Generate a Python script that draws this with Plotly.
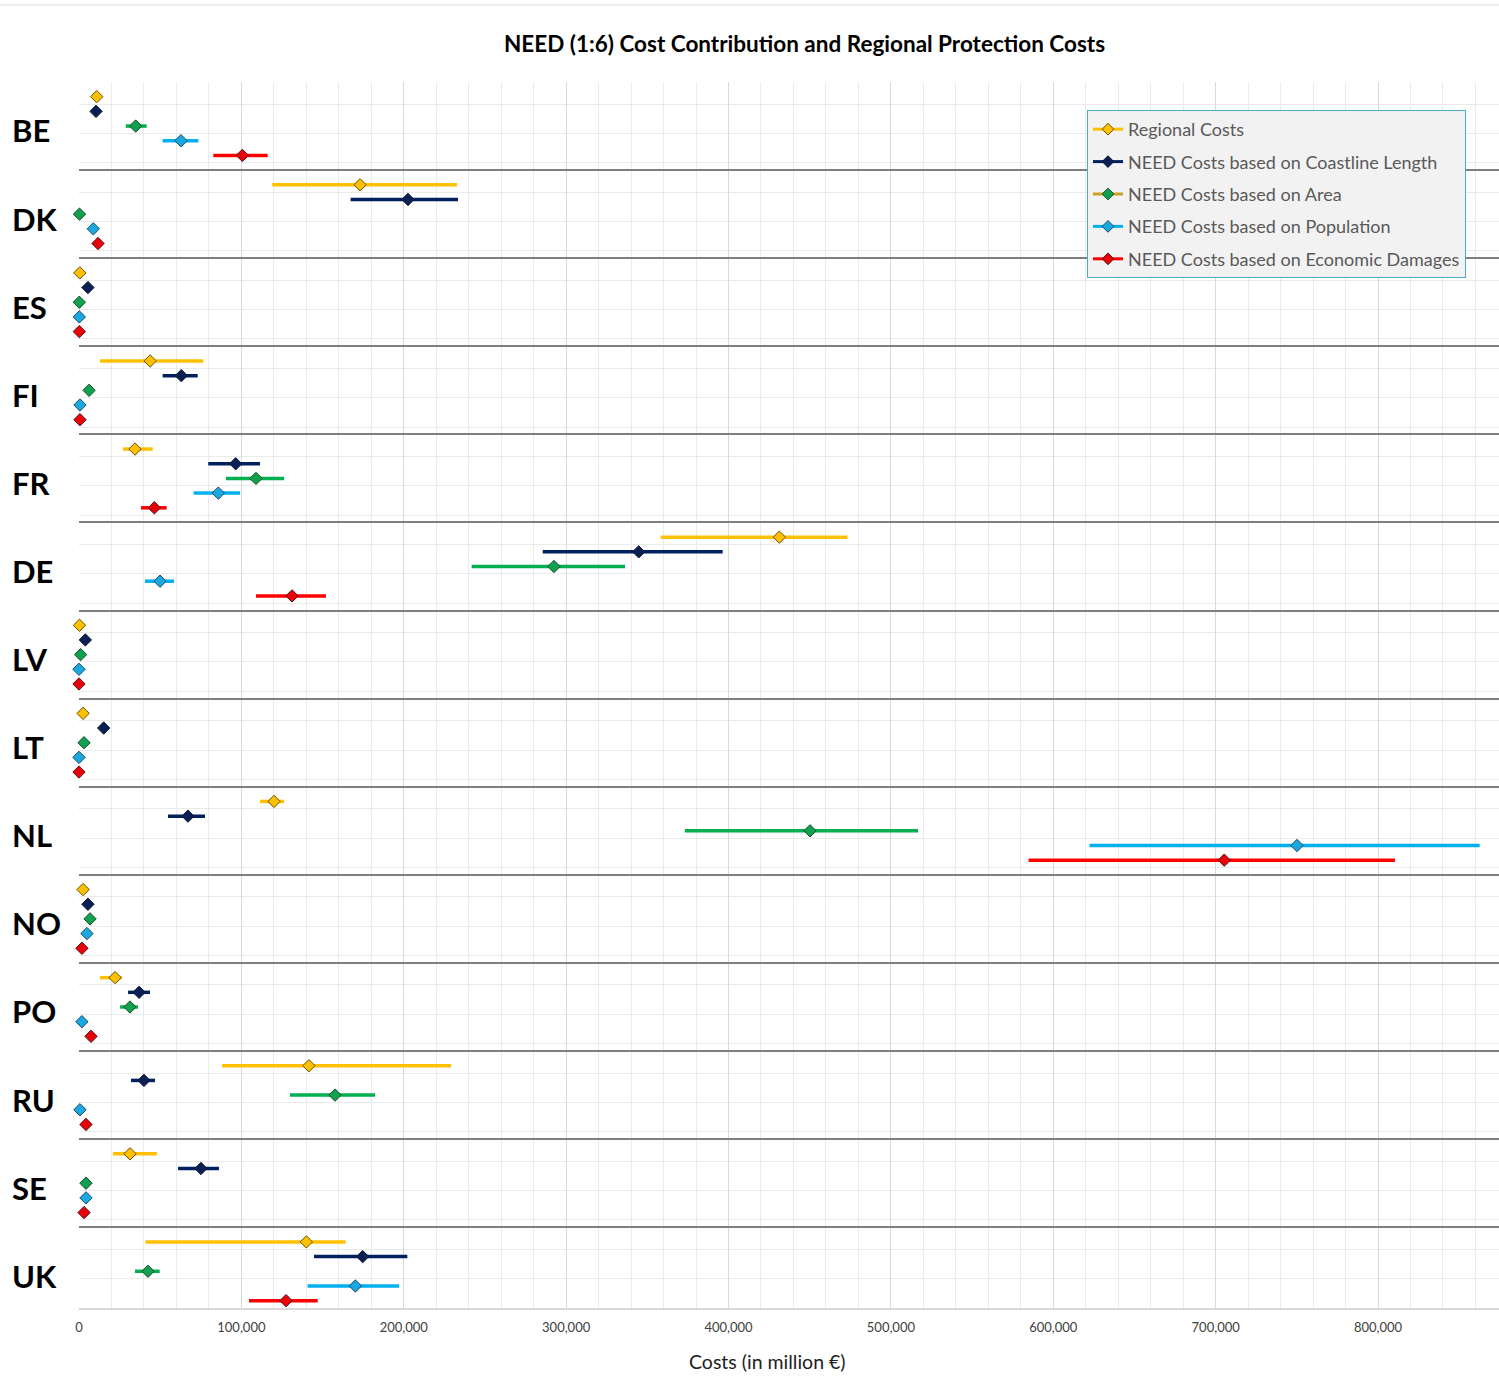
import plotly.graph_objects as go

countries = ["BE", "DK", "ES", "FI", "FR", "DE", "LV", "LT", "NL", "NO", "PO", "RU", "SE", "UK"]

series_names = [
    "Regional Costs",
    "NEED Costs based on Coastline Length",
    "NEED Costs based on Area",
    "NEED Costs based on Population",
    "NEED Costs based on Economic Damages",
]

# central values (million EUR)
regional_mid = [10900, 173100, 500, 43800, 34500, 431300, 300, 2500, 120100, 2500, 22200, 141600, 31400, 140000]
regional_lo = [10900, 119000, 500, 12900, 27100, 358200, 300, 2500, 111500, 2500, 12900, 88100, 20900, 41000]
regional_hi = [10900, 232800, 500, 76600, 45400, 473200, 300, 2500, 126300, 2500, 26500, 229100, 48000, 164200]

coast_mid = [10500, 202600, 5500, 63000, 96500, 344700, 3900, 15200, 67100, 5500, 37000, 40000, 75100, 174700]
coast_lo = [10500, 167300, 5500, 51500, 79600, 285600, 3900, 15200, 54800, 5500, 30200, 32000, 61000, 144700]
coast_hi = [10500, 233400, 5500, 73100, 111500, 396400, 3900, 15200, 77600, 5500, 43700, 46800, 86200, 202200]

area_mid = [34900, 300, 200, 6200, 109000, 292500, 1000, 3100, 450200, 6800, 31400, 157700, 4300, 42500]
area_lo = [28800, 300, 200, 6200, 90500, 241800, 1000, 3100, 373100, 6800, 25300, 129900, 4300, 34500]
area_hi = [41700, 300, 200, 6200, 126300, 336300, 1000, 3100, 516700, 6800, 36300, 182300, 4300, 49700]

pop_mid = [62800, 8800, 200, 600, 85800, 49900, 0, 0, 750100, 4900, 1800, 600, 4300, 170200]
pop_lo = [51500, 8800, 200, 600, 70600, 40600, 0, 0, 622300, 4900, 1800, 600, 4300, 140800]
pop_hi = [73500, 8800, 200, 600, 99200, 58500, 0, 0, 862600, 4900, 1800, 600, 4300, 197100]

dam_mid = [100600, 11700, 200, 600, 46400, 131200, 0, 0, 705300, 1800, 7400, 4300, 3100, 127500]
dam_lo = [82700, 11700, 200, 600, 38200, 109000, 0, 0, 584800, 1800, 7400, 4300, 3100, 104700]
dam_hi = [116200, 11700, 200, 600, 54000, 152100, 0, 0, 810400, 1800, 7400, 4300, 3100, 147000]

x_tick_vals = [0, 100000, 200000, 300000, 400000, 500000, 600000, 700000, 800000]
x_tick_text = ["0", "100,000", "200,000", "300,000", "400,000", "500,000", "600,000", "700,000", "800,000"]

data = [
    (regional_mid, regional_lo, regional_hi),
    (coast_mid, coast_lo, coast_hi),
    (area_mid, area_lo, area_hi),
    (pop_mid, pop_lo, pop_hi),
    (dam_mid, dam_lo, dam_hi),
]

bar_colors = ["#FFC000", "#002060", "#00B050", "#00B0F0", "#FF0000"]
marker_colors = ["#FFC000", "#0A1F55", "#0FA050", "#1AA8E0", "#E8000B"]
marker_lines = ["#6B5000", "#101830", "#1E4A2A", "#1E4A6A", "#5A1010"]
legend_line_colors = ["#FFC000", "#002060", "#C9A227", "#00B0F0", "#FF0000"]

FONT = "Lato, 'Open Sans', sans-serif"
W, H = 1499, 1399
ML, MR, MT, MB = 79, 0, 82, 91
PW = W - ML - MR
PH = H - MT - MB

fig = go.Figure()

n_series = len(series_names)
band = n_series + 1

for j, (mid, lo, hi) in enumerate(data):
    ys = [band * i + j for i in range(len(countries))]
    plus = [h - m for m, h in zip(mid, hi)]
    minus = [m - l for m, l in zip(mid, lo)]
    fig.add_trace(go.Scatter(
        x=mid, y=ys, mode="markers",
        marker=dict(size=8, opacity=0, color=bar_colors[j]),
        error_x=dict(type="data", symmetric=False, array=plus, arrayminus=minus,
                     color=bar_colors[j], thickness=3.5, width=0),
        showlegend=False, hoverinfo="skip",
    ))

for j, (mid, lo, hi) in enumerate(data):
    ys = [band * i + j for i in range(len(countries))]
    fig.add_trace(go.Scatter(
        x=mid, y=ys, mode="markers", name=series_names[j],
        marker=dict(symbol="diamond", size=9.5, color=marker_colors[j],
                    line=dict(color=marker_lines[j], width=1)),
        showlegend=False, cliponaxis=False, legendgroup=series_names[j],
    ))
    fig.add_trace(go.Scatter(
        x=[None], y=[None], mode="lines+markers", name=series_names[j],
        line=dict(color=legend_line_colors[j], width=3),
        marker=dict(symbol="diamond", size=9, color=marker_colors[j],
                    line=dict(color=marker_lines[j], width=1)),
        legendgroup=series_names[j], showlegend=True,
    ))

y_top = -1
y_bottom = band * len(countries) - 1.5

for i, c in enumerate(countries):
    fig.add_annotation(
        x=(10 - ML) / PW, xref="paper", xanchor="left",
        y=band * i + 2.3, yref="y", yanchor="middle",
        text="<b>%s</b>" % c, showarrow=False,
        font=dict(family=FONT, size=31, color="#000000"),
    )

fig.add_annotation(
    x=(767 - ML) / PW, xref="paper", xanchor="center",
    y=-(1361 - (H - MB)) / PH, yref="paper", yanchor="middle",
    text="Costs (in million €)", showarrow=False,
    font=dict(family=FONT, size=19.5, color="#222222"),
)

fig.add_shape(type="line", xref="paper", yref="paper",
              x0=-ML / PW, x1=1, y0=1 + (MT - 5) / PH, y1=1 + (MT - 5) / PH,
              line=dict(color="#D9D9D9", width=1))

fig.update_layout(
    width=W, height=H,
    margin=dict(l=ML, r=MR, t=MT, b=MB),
    paper_bgcolor="white", plot_bgcolor="white",
    font=dict(family=FONT, color="#404040"),
    title=dict(text="<b>NEED (1:6) Cost Contribution and Regional Protection Costs</b>",
               x=804.5 / W, xanchor="center", xref="container",
               y=1 - 44 / H, yanchor="middle", yref="container",
               font=dict(family=FONT, size=22.5, color="#000000")),
    legend=dict(x=(1087 - ML) / PW, y=1 - (110 - MT) / PH, xanchor="left", yanchor="top",
                bgcolor="#F2F2F2", bordercolor="#4BACC6", borderwidth=1,
                font=dict(family=FONT, size=18, color="#595959"),
                tracegroupgap=6, itemwidth=30, traceorder="grouped"),
    xaxis=dict(range=[0, 874500], tickmode="array", tickvals=x_tick_vals, ticktext=x_tick_text,
               showgrid=True, gridcolor="#D9D9D9", gridwidth=1, zeroline=False,
               showline=True, linecolor="#D9D9D9", linewidth=2,
               ticks="", ticklabelstandoff=6,
               tickfont=dict(family=FONT, size=13, color="#404040"),
               minor=dict(tickmode="linear", tick0=0, dtick=20000, showgrid=True,
                          gridcolor="#EBEBEB", gridwidth=1)),
    yaxis=dict(range=[y_bottom, y_top], tickmode="linear", tick0=-1, dtick=band,
               showgrid=True, gridcolor="#7F7F7F", gridwidth=1.5, zeroline=False,
               showticklabels=False, ticks="", showline=False,
               minor=dict(tickmode="linear", tick0=0.5, dtick=2, showgrid=True,
                          gridcolor="#EAEAEA", gridwidth=1)),
)

fig.write_html("out.html", config={"displayModeBar": False},
               post_script="document.body.style.margin='0';document.body.style.overflow='hidden';")
